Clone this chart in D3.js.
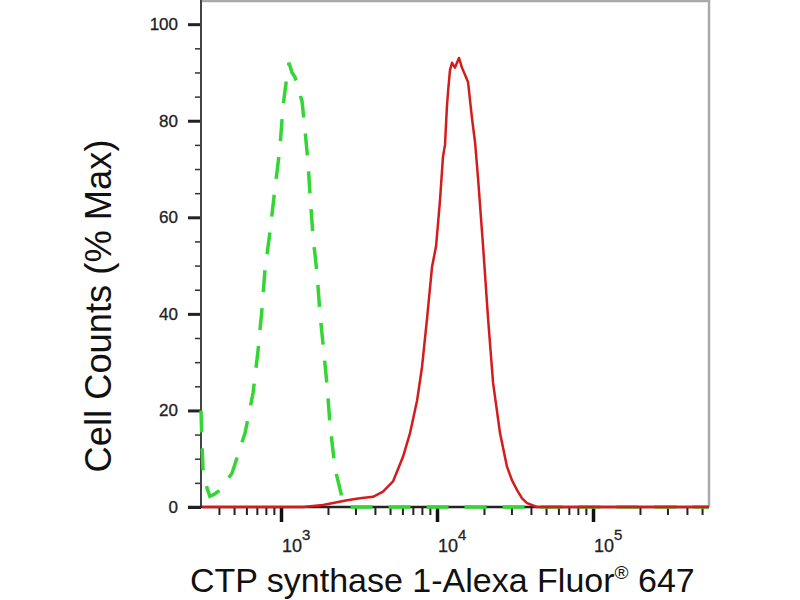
<!DOCTYPE html>
<html>
<head>
<meta charset="utf-8">
<script src="https://cdn.jsdelivr.net/npm/d3@7"></script>
<style>
body { margin: 0; background: #fff; }
svg { display: block; font-family: "Liberation Sans", Arial, sans-serif; }
</style>
</head>
<body>
<svg id="chart" width="800" height="600"></svg>
<script>
// Flow histogram: isotype control (green dashed) vs CTP synthase 1 stain (red)

// red: stained sample, fluorescence intensity and % of max
var redX = [311, 1384, 1858, 2650, 3206, 3890, 4508, 5224, 6054, 6713, 7447, 8017, 8630, 9290, 9860,
	10450, 10920, 11250, 11580, 11770, 12110, 12480, 13040, 13430, 13830, 14450, 15350, 15810, 16760,
	17540, 18330, 19740, 21250, 22880, 25350, 28120, 30270, 32600, 35090, 37780, 43760, 554000];
var redY = [0, 0, 0.4, 1.4, 1.8, 2.1, 3.2, 5.3, 10.4, 15.3, 22, 29, 39, 49.7, 54,
	63.5, 72.5, 75, 83, 86, 90.5, 92, 91, 92, 93, 91, 89, 88, 80.5,
	75.5, 68, 54, 39, 25.7, 15.3, 8.3, 5.5, 3.5, 1.8, 0.8, 0, 0];

// green: control
var greenX = [307, 311, 316, 335, 350, 372, 406, 485, 588, 662, 713, 755, 789, 850, 915, 985, 1030,
	1093, 1125, 1176, 1230, 1364, 1426, 1490, 1535, 1604, 1702, 1778, 1860, 1972, 2062, 2218, 2460,
	2687, 554000];
var greenY = [20, 14, 8, 4, 2.2, 2.6, 3.5, 7, 15.3, 23.6, 32.5, 41, 49, 57, 66, 74.5, 83,
	89.4, 92, 90, 89, 84, 78, 71.4, 64.6, 56, 48.4, 40, 33.7, 25.3, 17, 8, 2,
	0, 0];

var yTicks = [0, 20, 40, 60, 80, 100];
var xMajor = [3, 4, 5];
var xTitle = "CTP synthase 1-Alexa Fluor";
var xTitleSup = "®";
var xTitleEnd = " 647";
var yTitle = "Cell Counts (% Max)";

var cfg = {
	left: 201,
	right: 709,
	top: 1,
	bottom: 507
};

var svg = d3.select("#chart");

var x = d3.scaleLog()
	.domain([307, 554000])
	.range([cfg.left, cfg.right]);

var y = d3.scaleLinear()
	.domain([0, 104.8])
	.range([cfg.bottom, cfg.top]);

// frame (top + right are grey)
svg.append("path")
	.attr("d", "M" + cfg.left + "," + cfg.top + "H" + cfg.right + "V" + cfg.bottom)
	.attr("fill", "none")
	.attr("stroke", "#aaa")
	.attr("stroke-width", 2.5);

// y axis
var yMinor = d3.range(0, 101, 5).filter(function(d) { return yTicks.indexOf(d) === -1; });

svg.append("g")
	.attr("transform", "translate(" + cfg.left + ",0)")
	.call(d3.axisLeft(y).tickValues(yMinor).tickSize(6).tickFormat(""))
	.call(function(g) {
		g.select(".domain").remove();
		g.selectAll("line").attr("stroke", "#333").attr("stroke-width", 1.5);
	});

svg.append("g")
	.attr("transform", "translate(" + cfg.left + ",0)")
	.call(d3.axisLeft(y).tickValues(yTicks).tickSize(13).tickPadding(10))
	.call(function(g) {
		g.select(".domain").remove();
		g.selectAll("line").attr("stroke", "#222").attr("stroke-width", 3);
		g.selectAll("text").attr("font-size", 17).attr("fill", "#222").attr("stroke", "#222").attr("stroke-width", 0.3);
	});

svg.append("line")
	.attr("x1", cfg.left).attr("x2", cfg.left)
	.attr("y1", cfg.top - 1).attr("y2", cfg.bottom)
	.attr("stroke", "#444")
	.attr("stroke-width", 2);

// x axis
var minorVals = [];
for (var e = 2; e <= 5; e++) {
	for (var m = 2; m <= 9; m++) {
		var v = m * Math.pow(10, e);
		if (v > x.domain()[0] && v < x.domain()[1]) minorVals.push(v);
	}
}

svg.append("g")
	.attr("transform", "translate(0," + cfg.bottom + ")")
	.call(d3.axisBottom(x).tickValues(minorVals).tickSize(8).tickFormat(""))
	.call(function(g) {
		g.select(".domain").remove();
		g.selectAll("line").attr("stroke", "#222").attr("stroke-width", 2);
	});

svg.append("g")
	.attr("transform", "translate(0," + cfg.bottom + ")")
	.call(d3.axisBottom(x).tickValues(xMajor.map(function(d) { return Math.pow(10, d); })).tickSize(15).tickFormat(""))
	.call(function(g) {
		g.select(".domain").remove();
		g.selectAll("line").attr("stroke", "#111").attr("stroke-width", 3.5);
	});

svg.append("line")
	.attr("x1", cfg.left - 13).attr("x2", cfg.right)
	.attr("y1", cfg.bottom).attr("y2", cfg.bottom)
	.attr("stroke", "#222")
	.attr("stroke-width", 2.5);

var xl = svg.selectAll(".xlab")
	.data(xMajor)
	.enter().append("text")
	.attr("class", "xlab")
	.attr("x", function(d) { return x(Math.pow(10, d)) + 1; })
	.attr("y", 552)
	.attr("font-size", 18)
	.attr("fill", "#222")
	.attr("stroke", "#222")
	.attr("stroke-width", 0.3);
xl.append("tspan").text("10");
xl.append("tspan")
	.attr("dy", -12)
	.attr("font-size", 15)
	.text(function(d) { return d; });

// curves
var line = d3.line()
	.x(function(d) { return x(d[0]); })
	.y(function(d) { return y(d[1]); });

svg.append("path")
	.datum(greenX.map(function(d, i) { return [d, greenY[i]]; }))
	.attr("d", line)
	.attr("fill", "none")
	.attr("stroke", "#33d633")
	.attr("stroke-width", 3.5)
	.attr("stroke-dasharray", "22,16");

svg.append("path")
	.datum(redX.map(function(d, i) { return [d, redY[i]]; }))
	.attr("d", line)
	.attr("fill", "none")
	.attr("stroke", "#d41c1c")
	.attr("stroke-width", 2.5)
	.attr("stroke-linejoin", "round");

// titles
svg.append("text")
	.attr("transform", "translate(111,306) rotate(-90)")
	.attr("text-anchor", "middle")
	.attr("font-size", 37)
	.attr("textLength", 333)
	.attr("lengthAdjust", "spacingAndGlyphs")
	.attr("fill", "#111")
	.text(yTitle);

var xt = svg.append("text")
	.attr("x", 190)
	.attr("y", 592)
	.attr("font-size", 34)
	.attr("fill", "#111");
xt.append("tspan").text(xTitle);
xt.append("tspan").attr("dy", -13).attr("font-size", 19).text(xTitleSup);
xt.append("tspan").attr("dy", 13).text(xTitleEnd);
</script>
</body>
</html>
